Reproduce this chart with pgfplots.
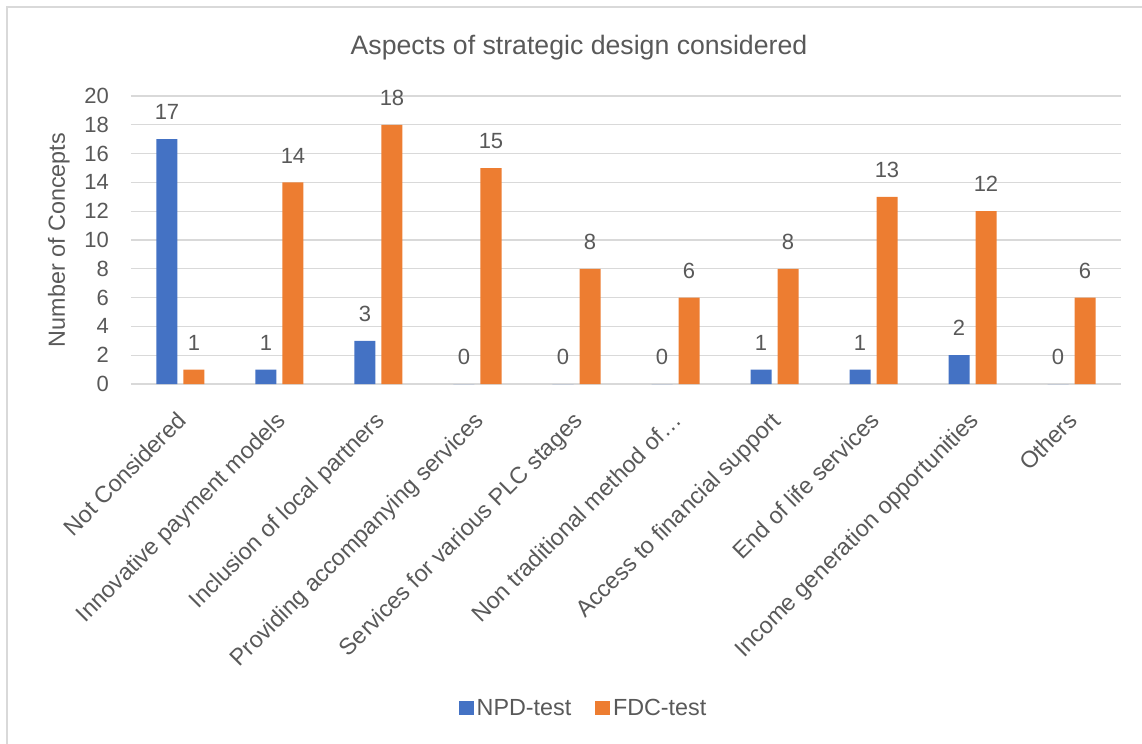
\documentclass[border=0pt]{standalone}
\usepackage{pgfplots}
\pgfplotsset{compat=1.18}
\usepackage{fontspec}
\setmainfont{Liberation Sans}
\definecolor{npd}{HTML}{4472C4}
\definecolor{fdc}{HTML}{ED7D31}
\definecolor{txt}{HTML}{595959}
\definecolor{grd}{HTML}{D9D9D9}
\begin{document}
\begin{tikzpicture}[x=1pt,y=1pt]
\useasboundingbox (-98.25pt,-269.25pt) rectangle (758.25pt,288pt);
\draw[grd, line width=1.2pt] (-93pt,-280pt) -- (-93pt,282.75pt) -- (770pt,282.75pt);
\begin{axis}[
  at={(0pt,0pt)}, anchor=south west,
  scale only axis, width=742.5pt, height=216pt,
  ybar=4.5pt, bar width=15.75pt,
  xmin=-0.5, xmax=9.5, ymin=0, ymax=20,
  ytick={0,2,...,20},
  xtick=data,
  xticklabels={Not Considered,Innovative payment models,Inclusion of local partners,Providing accompanying services,Services for various PLC stages,Non traditional method of\ldots,Access to financial support,End of life services,Income generation opportunities,Others},
  x tick label style={rotate=45, anchor=north east, font=\fontsize{17.5}{18}\selectfont, text=txt, yshift=-8pt, xshift=-13pt},
  y tick label style={font=\fontsize{16.5}{18}\selectfont, text=txt, xshift=-13pt},
  /pgf/number format/assume math mode=true,
  major tick length=0pt,
  axis x line*=bottom, axis y line*=left,
  x axis line style={draw=grd, line width=1.2pt, -},
  y axis line style={draw=none},
  ymajorgrids, grid style={grd, line width=1pt},
  ylabel={Number of Concepts},
  ylabel style={font=\fontsize{17.5}{18}\selectfont, text=txt, at={(axis description cs:-0.073,0.5)}, anchor=center, rotate=0},
  title={Aspects of strategic design considered},
  title style={font=\fontsize{20}{24}\selectfont, text=txt, at={(axis description cs:0.4525,1.142)}, anchor=center},
  nodes near coords,
  every node near coord/.append style={font=\fontsize{16.5}{18}\selectfont, text=txt, yshift=11pt},
  legend style={at={(axis description cs:0.4576,-1.125)}, anchor=center, draw=none, legend columns=2, font=\fontsize{17.5}{18}\selectfont, text=txt, /tikz/every even column/.append style={column sep=16pt}},
  legend image code/.code={\fill[#1] (0pt,-5.6pt) rectangle (11.25pt,5.6pt);},
]
\addplot[fill=npd, draw=none] coordinates {(0,17) (1,1) (2,3) (3,0) (4,0) (5,0) (6,1) (7,1) (8,2) (9,0)};
\addplot[fill=fdc, draw=none] coordinates {(0,1) (1,14) (2,18) (3,15) (4,8) (5,6) (6,8) (7,13) (8,12) (9,6)};
\legend{NPD-test,FDC-test}
\end{axis}
\end{tikzpicture}
\end{document}
